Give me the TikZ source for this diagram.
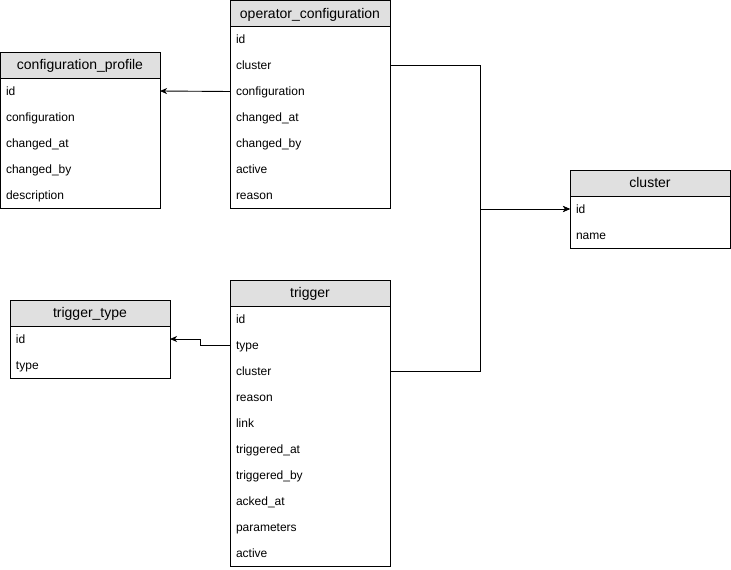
\documentclass[tikz,border=0pt]{standalone}
\usepackage{fontspec}
\setmainfont{Liberation Sans}
\usetikzlibrary{positioning,arrows.meta}

\definecolor{headgray}{HTML}{E0E0E0}

\tikzset{
    headbox/.style={anchor=north west, draw, fill=headgray, line width=0.9pt,
        minimum width=160pt, minimum height=26pt, inner sep=0pt, outer sep=0pt,
        text height=11pt, text depth=2pt,
        font=\fontsize{14}{16}\selectfont},
    rowbox/.style={minimum height=26pt, text width=148pt, inner xsep=6pt,
        inner ysep=0pt, outer sep=0pt, align=left,
        text height=9.5pt, text depth=1.5pt,
        font=\fontsize{12}{14}\selectfont},
    frame/.style={line width=0.9pt},
    fk/.style={line width=0.9pt, -{Stealth[length=7pt, width=6pt, inset=2pt]}}
}

\begin{document}
\begin{tikzpicture}[x=1pt, y=-1pt]
    \useasboundingbox (0, 0) rectangle (731, 570);

    % configuration_profile
    \node[headbox] (cp-head) at (0, 52) {configuration\_profile};
    \node[rowbox, below=0pt of cp-head] (cp-id) {id};
    \node[rowbox, below=0pt of cp-id] (cp-configuration) {configuration};
    \node[rowbox, below=0pt of cp-configuration] (cp-changedat) {changed\_at};
    \node[rowbox, below=0pt of cp-changedat] (cp-changedby) {changed\_by};
    \node[rowbox, below=0pt of cp-changedby] (cp-description) {description};
    \draw[frame] (cp-head.north west) rectangle (cp-description.south east);

    % operator_configuration
    \node[headbox] (oc-head) at (230, 0.5) {operator\_configuration};
    \node[rowbox, below=0pt of oc-head] (oc-id) {id};
    \node[rowbox, below=0pt of oc-id] (oc-cluster) {cluster};
    \node[rowbox, below=0pt of oc-cluster] (oc-configuration) {configuration};
    \node[rowbox, below=0pt of oc-configuration] (oc-changedat) {changed\_at};
    \node[rowbox, below=0pt of oc-changedat] (oc-changedby) {changed\_by};
    \node[rowbox, below=0pt of oc-changedby] (oc-active) {active};
    \node[rowbox, below=0pt of oc-active] (oc-reason) {reason};
    \draw[frame] (oc-head.north west) rectangle (oc-reason.south east);

    % cluster
    \node[headbox] (cl-head) at (570, 170) {cluster};
    \node[rowbox, below=0pt of cl-head] (cl-id) {id};
    \node[rowbox, below=0pt of cl-id] (cl-name) {name};
    \draw[frame] (cl-head.north west) rectangle (cl-name.south east);

    % trigger_type
    \node[headbox] (tt-head) at (10, 300) {trigger\_type};
    \node[rowbox, below=0pt of tt-head] (tt-id) {id};
    \node[rowbox, below=0pt of tt-id] (tt-type) {type};
    \draw[frame] (tt-head.north west) rectangle (tt-type.south east);

    % trigger
    \node[headbox] (tr-head) at (230, 280) {trigger};
    \node[rowbox, below=0pt of tr-head] (tr-id) {id};
    \node[rowbox, below=0pt of tr-id] (tr-type) {type};
    \node[rowbox, below=0pt of tr-type] (tr-cluster) {cluster};
    \node[rowbox, below=0pt of tr-cluster] (tr-reason) {reason};
    \node[rowbox, below=0pt of tr-reason] (tr-link) {link};
    \node[rowbox, below=0pt of tr-link] (tr-triggeredat) {triggered\_at};
    \node[rowbox, below=0pt of tr-triggeredat] (tr-triggeredby) {triggered\_by};
    \node[rowbox, below=0pt of tr-triggeredby] (tr-ackedat) {acked\_at};
    \node[rowbox, below=0pt of tr-ackedat] (tr-parameters) {parameters};
    \node[rowbox, below=0pt of tr-parameters] (tr-active) {active};
    \draw[frame] (tr-head.north west) rectangle (tr-active.south east);

    % references
    \draw[fk] (oc-configuration.west) -- (cp-id.east);
    \draw[fk] (oc-cluster.east) -- ++(90, 0) |- (cl-id.west);
    \draw[fk] (tr-cluster.east) -- ++(90, 0) |- (cl-id.west);
    \draw[fk] (tr-type.west) -- ++(-30, 0) |- (tt-id.east);
\end{tikzpicture}
\end{document}
